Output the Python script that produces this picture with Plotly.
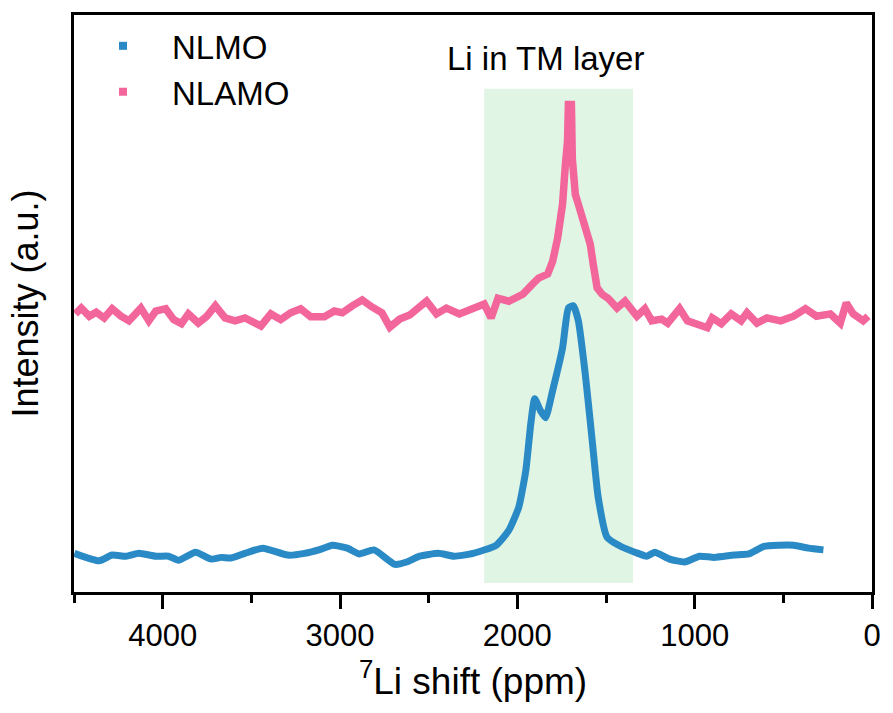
import plotly.graph_objects as go

# 7Li NMR spectra: chemical shift (ppm) vs intensity (a.u., offset stacked)
nlmo_shift = [4498, 4358, 4285, 4207, 4134, 4039, 3966, 3911, 3815, 3726, 3670, 3614,
              3536, 3435, 3295, 3200, 3110, 3043, 2959, 2892, 2808, 2691, 2624, 2551,
              2445, 2355, 2249, 2120, 2048, 1992, 1952, 1924, 1902, 1869, 1841, 1801,
              1745, 1712, 1684, 1656, 1617, 1578, 1544, 1494, 1410, 1337, 1270, 1225,
              1141, 1057, 973, 890, 778, 694, 610, 526, 442, 358, 274]
nlmo_int = [6.7, 5.4, 6.4, 6.2, 6.7, 6.2, 6.2, 5.5, 6.9, 5.7, 6.0, 5.9,
            6.7, 7.6, 6.4, 6.7, 7.4, 8.1, 7.6, 6.6, 7.3, 4.8, 5.2, 6.2,
            6.7, 6.2, 6.7, 8.1, 10.7, 14.7, 21.1, 29.2, 33.5, 31.4, 30.2, 34.9,
            42.3, 49.2, 49.6, 47.0, 37.8, 26.3, 16.4, 9.5, 7.8, 6.9, 6.2, 6.9,
            5.7, 5.2, 6.2, 6.0, 6.4, 6.6, 7.9, 8.1, 8.1, 7.6, 7.3]

nlamo_shift = [4492, 4459, 4414, 4375, 4330, 4285, 4235, 4190, 4123, 4078, 4039, 3983,
               3938, 3894, 3855, 3799, 3754, 3703, 3648, 3592, 3536, 3480, 3446, 3390,
               3334, 3278, 3222, 3166, 3088, 3032, 2987, 2931, 2875, 2820, 2764, 2719,
               2663, 2607, 2551, 2512, 2456, 2400, 2327, 2249, 2187, 2148, 2109, 2048,
               1969, 1913, 1880, 1829, 1801, 1773, 1745, 1729, 1717, 1712, 1695, 1690,
               1673, 1656, 1617, 1589, 1572, 1550, 1522, 1488, 1438, 1393, 1326, 1281,
               1242, 1186, 1152, 1085, 1041, 985, 929, 901, 850, 794, 738, 705,
               649, 593, 515, 442, 375, 313, 235, 179, 145, 106, 50, 22]
nlamo_int = [48.2, 49.2, 47.8, 48.5, 47.5, 49.1, 47.8, 47.0, 49.2, 47.0, 48.7, 49.1,
             47.2, 46.5, 48.2, 46.6, 47.7, 49.6, 47.5, 47.0, 47.5, 46.6, 46.1, 48.2,
             47.2, 48.4, 49.1, 47.7, 47.7, 48.7, 48.4, 49.6, 50.6, 49.4, 48.4, 45.9,
             47.3, 48.0, 49.4, 50.4, 48.2, 49.2, 48.2, 49.2, 49.9, 47.5, 50.9, 50.4,
             51.6, 53.4, 54.4, 55.1, 57.3, 61.3, 67.2, 74.1, 78.1, 84.5, 84.5, 75.1,
             68.9, 67.2, 63.7, 60.3, 56.8, 52.7, 51.6, 50.9, 49.2, 50.4, 47.8, 49.1,
             47.0, 47.3, 46.6, 49.1, 47.0, 46.5, 45.8, 47.5, 46.5, 48.2, 47.0, 48.4,
             46.6, 47.5, 47.0, 47.8, 49.1, 47.8, 48.2, 46.6, 50.1, 48.2, 47.0, 47.8]

# shaded region for Li in the transition-metal layer
tm_band = [2187, 1348]
tm_band_y = [1.55, 87.2]
tm_label = "Li in TM layer"

x_ticks = [4000, 3000, 2000, 1000, 0]

BLUE = "#2a8ac6"
PINK = "#f2669b"
FONT = "Liberation Sans, Arial, sans-serif"

fig = go.Figure()

fig.add_shape(type="rect", xref="x", yref="y",
              x0=tm_band[0], x1=tm_band[1], y0=tm_band_y[0], y1=tm_band_y[1],
              fillcolor="#e0f5e4", line=dict(width=0), layer="below")

fig.add_trace(go.Scatter(x=nlmo_shift, y=nlmo_int, mode="lines",
                         line=dict(color=BLUE, width=7, shape="spline", smoothing=0.5),
                         showlegend=False))
fig.add_trace(go.Scatter(x=nlamo_shift, y=nlamo_int, mode="lines",
                         line=dict(color=PINK, width=7.5),
                         showlegend=False))

# legend entries drawn as square markers
fig.add_trace(go.Scatter(x=[None], y=[None], mode="markers", name="NLMO",
                         marker=dict(symbol="square", size=8, color=BLUE)))
fig.add_trace(go.Scatter(x=[None], y=[None], mode="markers", name="NLAMO",
                         marker=dict(symbol="square", size=8, color=PINK)))

fig.add_annotation(x=1840, y=1, xref="x", yref="paper", yanchor="bottom",
                   text=tm_label, showarrow=False, yshift=-64,
                   font=dict(family=FONT, size=33, color="black"))

fig.update_layout(
    width=893, height=713,
    margin=dict(l=74, r=14, t=13, b=121),
    paper_bgcolor="white", plot_bgcolor="white",
    font=dict(family=FONT, color="black"),
    legend=dict(x=0, y=0.995, xanchor="left", yanchor="top",
                itemwidth=88, bgcolor="rgba(0,0,0,0)",
                font=dict(family=FONT, size=33), tracegroupgap=0),
    xaxis=dict(range=[4500, 0], tickvals=x_ticks, ticks="outside", ticklen=14,
               tickwidth=2.5, tickcolor="black", showline=True, linecolor="black",
               linewidth=3, mirror=True, showgrid=False, zeroline=False,
               tickfont=dict(family=FONT, size=31),
               minor=dict(tickvals=[4500, 3500, 2500, 1500, 500], ticks="outside",
                          ticklen=8, tickwidth=2.5, tickcolor="black"),
               title=dict(text="<sup>7</sup>Li shift (ppm)",
                          font=dict(family=FONT, size=37), standoff=16)),
    yaxis=dict(range=[0, 100], showticklabels=False, ticks="", showline=True,
               linecolor="black", linewidth=3, mirror=True, showgrid=False,
               zeroline=False,
               title=dict(text="Intensity (a.u.)", font=dict(family=FONT, size=36),
                          standoff=22)),
)

fig.write_html("out.html")
